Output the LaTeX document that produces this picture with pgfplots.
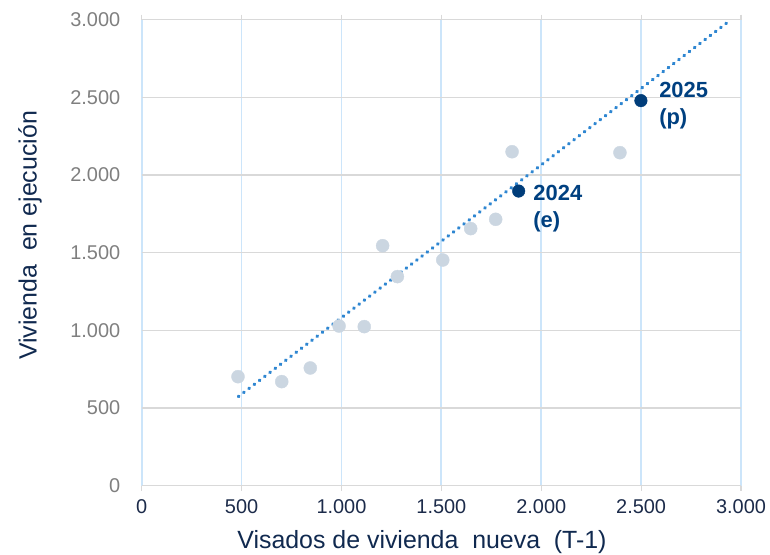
\documentclass[border=0pt]{standalone}
\usepackage{pgfplots}
\pgfplotsset{compat=1.18}
\usepackage{fontspec}
\setmainfont{Liberation Sans}
\definecolor{gridblue}{HTML}{CCE5FA}
\definecolor{gridgrey}{HTML}{D9D9D9}
\definecolor{ticknavy}{HTML}{1C2B4A}
\definecolor{labnavy}{HTML}{10294F}
\definecolor{tickgrey}{HTML}{7F7F7F}
\definecolor{ptgrey}{HTML}{CBD6E1}
\definecolor{ptnavy}{HTML}{003D7A}
\definecolor{annnavy}{HTML}{004080}
\definecolor{trend}{HTML}{2E86D1}
\begin{document}
\begin{tikzpicture}
\begin{axis}[
  at={(141.7bp,-485.7bp)}, anchor=south west,
  scale only axis, width=599.3bp, height=466bp,
  xmin=0, xmax=3000, ymin=0, ymax=3000,
  xtick={0,500,...,3000}, ytick={0,500,...,3000},
  scaled ticks=false,
  /pgf/number format/.cd, 1000 sep={.}, assume math mode=true, /pgfplots/.cd,
  axis line style={draw=none},
  grid=major,
  x grid style={gridblue, line width=1.8bp},
  y grid style={gridgrey, line width=1.2bp},
  tick align=outside, major tick length=5bp,
  xtick style={draw=gridgrey, line width=1.2bp},
  ytick style={draw=none},
  xticklabel style={font=\fontsize{20}{24}\selectfont, text=ticknavy, yshift=-5bp},
  yticklabel style={font=\fontsize{20}{24}\selectfont, text=tickgrey, xshift=-13bp},
  xlabel={Visados de vivienda\ \ nueva\ \ (T-1)},
  ylabel={Vivienda\ \ en ejecución},
  xlabel style={at={(axis description cs:0.4677,-0.1345)}, anchor=base, font=\fontsize{25}{30}\selectfont, text=labnavy},
  ylabel style={at={(axis description cs:-0.1752,0.537)}, anchor=base, rotate=0, font=\fontsize{25}{30}\selectfont, text=labnavy},
  clip=false,
]
\addplot[only marks, color=ptgrey, mark=*, mark size=6.5bp, mark options={draw=none, fill=ptgrey}] coordinates {
  (482,702) (701,670) (844,758) (988,1028) (1114,1024) (1206,1545) (1280,1346)
  (1507,1453) (1647,1655) (1772,1715) (1854,2150) (2394,2144)
};
\addplot[color=trend, line width=3.4bp, line cap=round, dash pattern=on 0.6bp off 6.0bp] coordinates {
  (484,574) (2950,3000)
};
\addplot[only marks, color=ptnavy, mark=*, mark size=6.3bp, mark options={draw=none, fill=ptnavy}] coordinates {
  (1887,1897) (2499,2479)
};
\node[anchor=north west, inner sep=0pt, align=left, text=annnavy, font=\bfseries\fontsize{22}{27}\selectfont] at (axis cs:1960,1937) {2024\\(e)};
\node[anchor=north west, inner sep=0pt, align=left, text=annnavy, font=\bfseries\fontsize{22}{27}\selectfont] at (axis cs:2590,2599) {2025\\(p)};
\end{axis}
\pgfresetboundingbox
\path[use as bounding box] (0,0) rectangle (770bp,-555bp);
\end{tikzpicture}
\end{document}
